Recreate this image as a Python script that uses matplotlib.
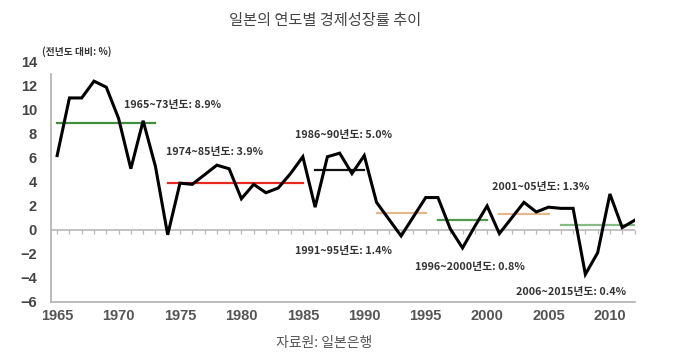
import matplotlib
matplotlib.use("Agg")
import matplotlib.pyplot as plt

plt.rcParams['font.family'] = ['Noto Sans CJK KR', 'DejaVu Sans']

# Annual GDP growth, Japan (%)
years = list(range(1965, 2013))
growth = [6.2, 11.0, 11.0, 12.4, 11.9, 9.3, 5.1, 9.1, 5.3, -0.4,
          3.9, 3.8, 4.6, 5.4, 5.1, 2.6, 3.8, 3.1, 3.5, 4.7,
          6.1, 1.9, 6.1, 6.4, 4.7, 6.2, 2.3, 0.9, -0.5, 1.1,
          2.7, 2.7, 0.1, -1.5, 0.3, 2.0, -0.3, 1.0, 2.3, 1.5,
          1.9, 1.8, 1.8, -3.7, -1.9, 3.0, 0.2, 0.8]

# period averages
period_start = [1965, 1974, 1986, 1991, 1996, 2001, 2006]
period_end = [1973, 1985, 1990, 1995, 2000, 2005, 2012]
period_avg = [8.9, 3.9, 5.0, 1.4, 0.8, 1.3, 0.4]
period_color = ['#3f8f3f', '#e8271f', '#111111', '#e3b98a', '#4f9a4f', '#e3b98a', '#86bb86']
period_label = ['1965~73년도: 8.9%', '1974~85년도: 3.9%', '1986~90년도: 5.0%',
                '1991~95년도: 1.4%', '1996~2000년도: 0.8%', '2001~05년도: 1.3%',
                '2006~2015년도: 0.4%']
label_x = [1974.4, 1977.8, 1988.3, 1988.3, 1998.6, 2004.4, 2006.8]
label_y = [10.4, 6.5, 7.9, -1.75, -3.05, 3.6, -5.15]

yticks = [14, 12, 10, 8, 6, 4, 2, 0, -2, -4, -6]
xticks = [1965, 1970, 1975, 1980, 1985, 1990, 1995, 2000, 2005, 2010]

fig = plt.figure(figsize=(6.8, 3.54), dpi=100)
ax = fig.add_axes([0.075, 0.147, 0.859, 0.678])

# zero line
ax.axhline(0, color='#b8b8b8', lw=1.2, zorder=1)

for s, e, v, c in zip(period_start, period_end, period_avg, period_color):
    ax.plot([s, e], [v, v], color=c, lw=1.6, zorder=2)

ax.plot(years, growth, color='black', lw=2.2, zorder=3, solid_joinstyle='miter')

for t, x, y in zip(period_label, label_x, label_y):
    ax.text(x, y, t, ha='center', va='center', fontsize=7.8,
            fontweight='bold', color='#333333')

ax.set_xlim(1964.5, 2012.05)
ax.set_ylim(-6, 14)
ax.set_xticks(xticks)
ax.set_yticks(yticks)
ax.tick_params(axis='x', length=0, pad=5, labelsize=10.5, labelcolor='#555555')
ax.tick_params(axis='y', length=0, pad=10, labelsize=10.5, labelcolor='#444444')
for lab in ax.get_xticklabels() + ax.get_yticklabels():
    lab.set_fontweight('bold')
    lab.set_family(['Liberation Sans', 'DejaVu Sans'])

for side in ['top', 'right']:
    ax.spines[side].set_visible(False)
for side in ['left', 'bottom']:
    ax.spines[side].set_color('#b0b0b0')
    ax.spines[side].set_linewidth(1.2)
ax.spines['left'].set_bounds(-6, 13)

# small year ticks along the zero line
sec = ax.secondary_xaxis(0.3)
sec.set_xticks(years)
sec.tick_params(axis='x', length=3, width=0.9, color='#b8b8b8', labelbottom=False)
sec.spines['bottom'].set_visible(False)

fig.text(325 / 680, 1 - 21 / 354, '일본의 연도별 경제성장률 추이', ha='center', va='center',
         fontsize=11, color='#444444')
fig.text(42 / 680, 1 - 52 / 354, '(전년도 대비: %)', ha='left', va='center',
         fontsize=7, fontweight='bold', color='#333333')
fig.text(324 / 680, 1 - 343 / 354, '자료원: 일본은행', ha='center', va='center',
         fontsize=10, color='#555555')

fig.savefig('out.png', dpi=100)
